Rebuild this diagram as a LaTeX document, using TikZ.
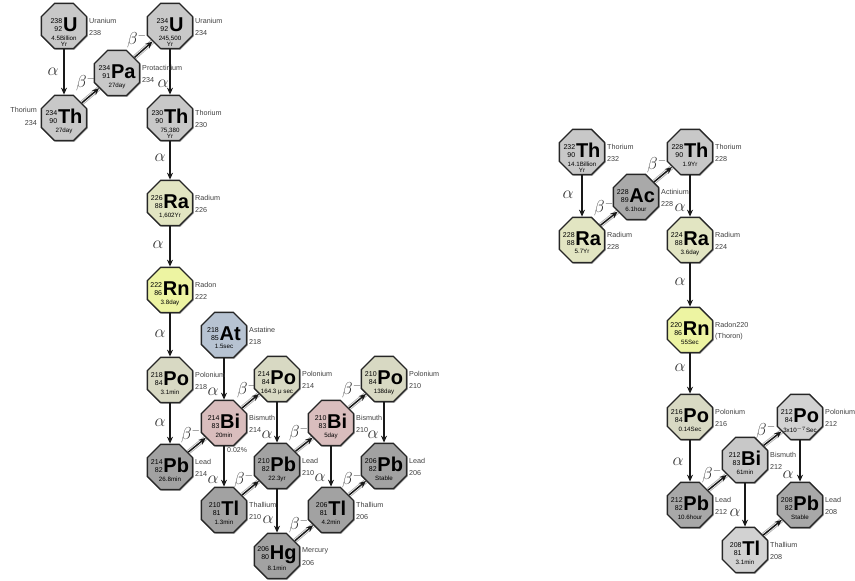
\documentclass[tikz,border=0pt]{standalone}
\usepackage{fontspec}
\setmainfont{Liberation Sans}
\usetikzlibrary{shapes.geometric, arrows.meta, calc, shadows, backgrounds}

\definecolor{cLG}{HTML}{C8C8C8}
\definecolor{cLG2}{HTML}{D2D2D2}
\definecolor{cAc}{HTML}{A9A9A9}
\definecolor{cRa}{HTML}{E2E5C2}
\definecolor{cRn}{HTML}{EDF4A2}
\definecolor{cAt}{HTML}{B7C3D2}
\definecolor{cPo}{HTML}{D8D9C3}
\definecolor{cBi}{HTML}{D9BDBD}
\definecolor{cPbL}{HTML}{A2A2A2}
\definecolor{cPbR}{HTML}{A8A8A8}

\newcommand\numf{\fontsize{7}{7.5}\selectfont}
\newcommand\symf{\fontsize{20}{22}\selectfont\bfseries}
\newcommand\hlf{\fontsize{6.2}{6.6}\selectfont}
\newcommand\labf{\fontsize{7.2}{8.5}\selectfont}

\tikzset{
  oct/.style={regular polygon, regular polygon sides=8, minimum size=49pt, inner sep=0pt,
    draw=black!85, line width=1.4pt,
    drop shadow={shadow xshift=1.2pt, shadow yshift=-1.2pt, fill=black, opacity=0.25}},
  inner/.style={inner sep=0pt},
  hl/.style={inner sep=0pt, anchor=north, align=center, font=\hlf},
  labr/.style={inner sep=0pt, anchor=west, font=\labf, text=black!75},
  labl/.style={inner sep=0pt, anchor=east, font=\labf, text=black!75},
  aarr/.style={line width=1.9pt, draw=black!90, -{Stealth[length=7pt,width=6pt]}},
  barr/.style={line width=1.5pt, draw=black!90, -{Stealth[length=7pt,width=6pt]},
    preaction={draw=black!30, line width=4.6pt, -{}},
    preaction={draw=white, line width=2.8pt, -{}}},
  alab/.style={inner sep=0pt, font=\fontsize{16}{16}\selectfont, text=black!80},
  blab/.style={inner sep=0pt, font=\fontsize{16}{16}\selectfont, text=black!80},
  pct/.style={inner sep=0pt, anchor=west, font=\numf, text=black!75}
}

\newcommand\iso[7]{%
  \node[oct, fill=#3] (#1) at (#2) {};
  \node[inner] at ($(#1)+(0,-1.5)$) {\shortstack[r]{\numf #4\\\numf #5}\kern0.8pt{\symf #6}};
  \node[hl] at ($(#1)+(0,9.5)$) {#7};
}
\newcommand\labR[3]{%
  \node[labr] at ($(#1)+(25,-5)$) {#2};
  \node[labr] at ($(#1)+(25,7)$) {#3};
}
\newcommand\labL[3]{%
  \node[labl] at ($(#1)+(-27,-8)$) {#2};
  \node[labl] at ($(#1)+(-27,5)$) {#3};
}

\begin{document}
\begin{tikzpicture}[x=1pt, y=-1pt]
\useasboundingbox (0,0) rectangle (855,581);

% ---------- Uranium series ----------
\iso{U238}{64,26}{cLG}{238}{92}{U}{4.5Billion\\Yr}
\iso{Pa234}{117,73}{cLG}{234}{91}{Pa}{27day}
\iso{Th234}{64,118}{cLG}{234}{90}{Th}{27day}
\iso{U234}{170,26}{cLG}{234}{92}{U}{245,500\\Yr}
\iso{Th230}{170,118}{cLG}{230}{90}{Th}{75,380\\Yr}
\iso{Ra226}{170,203}{cRa}{226}{88}{Ra}{1,602Yr}
\iso{Rn222}{170,290}{cRn}{222}{86}{Rn}{3.8day}
\iso{At218}{224,335}{cAt}{218}{85}{At}{1.5sec}
\iso{Po218}{170,380}{cPo}{218}{84}{Po}{3.1min}
\iso{Bi214}{224,423}{cBi}{214}{83}{Bi}{20min}
\iso{Po214}{277,379}{cPo}{214}{84}{Po}{164.3 μ sec}
\iso{Pb214}{170,467}{cPbL}{214}{82}{Pb}{26.8min}
\iso{Tl210}{224,510}{cPbL}{210}{81}{Tl}{1.3min}
\iso{Pb210}{277,466}{cPbL}{210}{82}{Pb}{22.3yr}
\iso{Hg206}{277,556}{cPbL}{206}{80}{Hg}{8.1min}
\iso{Bi210}{331,423}{cBi}{210}{83}{Bi}{5day}
\iso{Po210}{384,379}{cPo}{210}{84}{Po}{138day}
\iso{Tl206}{331,510}{cPbL}{206}{81}{Tl}{4.2min}
\iso{Pb206}{384,466}{cPbL}{206}{82}{Pb}{Stable}

\labR{U238}{Uranium}{238}
\labR{Pa234}{Protactinium}{234}
\labL{Th234}{Thorium}{234}
\labR{U234}{Uranium}{234}
\labR{Th230}{Thorium}{230}
\labR{Ra226}{Radium}{226}
\labR{Rn222}{Radon}{222}
\labR{At218}{Astatine}{218}
\labR{Po218}{Polonium}{218}
\labR{Bi214}{Bismuth}{214}
\labR{Po214}{Polonium}{214}
\labR{Pb214}{Lead}{214}
\labR{Tl210}{Thallium}{210}
\labR{Pb210}{Lead}{210}
\labR{Hg206}{Mercury}{206}
\labR{Bi210}{Bismuth}{210}
\labR{Po210}{Polonium}{210}
\labR{Tl206}{Thallium}{206}
\labR{Pb206}{Lead}{206}
\node[pct] at (227,450) {0.02\%};

% ---------- Thorium series ----------
\iso{Th232}{582,152}{cLG}{232}{90}{Th}{14.1Billion\\Yr}
\iso{Ac228}{636,197}{cAc}{228}{89}{Ac}{6.1hour}
\iso{Th228}{690,152}{cLG}{228}{90}{Th}{1.9Yr}
\iso{Ra228}{582,240}{cRa}{228}{88}{Ra}{5.7Yr}
\iso{Ra224}{690,240}{cRa}{224}{88}{Ra}{3.6day}
\iso{Rn220}{690,330}{cRn}{220}{86}{Rn}{55Sec}
\iso{Po216}{690,417}{cPo}{216}{84}{Po}{0.14Sec}
\iso{Bi212}{745,460}{cLG}{212}{83}{Bi}{61min}
\iso{Po212}{800,417}{cLG2}{212}{84}{Po}{3x10$^{-7}$Sec}
\iso{Pb212}{690,505}{cPbR}{212}{82}{Pb}{10.6hour}
\iso{Pb208}{800,505}{cPbR}{208}{82}{Pb}{Stable}
\iso{Tl208}{745,550}{cLG2}{208}{81}{Tl}{3.1min}

\labR{Th232}{Thorium}{232}
\labR{Ac228}{Actinium}{228}
\labR{Th228}{Thorium}{228}
\labR{Ra228}{Radium}{228}
\labR{Ra224}{Radium}{224}
\labR{Rn220}{Radon220}{(Thoron)}
\labR{Po216}{Polonium}{216}
\labR{Bi212}{Bismuth}{212}
\labR{Po212}{Polonium}{212}
\labR{Pb212}{Lead}{212}
\labR{Pb208}{Lead}{208}
\labR{Tl208}{Thallium}{208}

% ---------- connectors ----------
\begin{scope}[on background layer]
  % alpha
  \draw[aarr] (U238) -- (Th234);
  \draw[aarr] (U234) -- (Th230);
  \draw[aarr] (Th230) -- (Ra226);
  \draw[aarr] (Ra226) -- (Rn222);
  \draw[aarr] (Rn222) -- (Po218);
  \draw[aarr] (Po218) -- (Pb214);
  \draw[aarr] (At218) -- (Bi214);
  \draw[aarr] (Po214) -- (Pb210);
  \draw[aarr] (Bi214) -- (Tl210);
  \draw[aarr] (Po210) -- (Pb206);
  \draw[aarr] (Bi210) -- (Tl206);
  \draw[aarr] (Pb210) -- (Hg206);
  \draw[aarr] (Th232) -- (Ra228);
  \draw[aarr] (Th228) -- (Ra224);
  \draw[aarr] (Ra224) -- (Rn220);
  \draw[aarr] (Rn220) -- (Po216);
  \draw[aarr] (Po216) -- (Pb212);
  \draw[aarr] (Bi212) -- (Tl208);
  \draw[aarr] (Po212) -- (Pb208);
  % beta
  \draw[barr] (Th234) -- (Pa234);
  \draw[barr] (Pa234) -- (U234);
  \draw[barr] (Pb214) -- (Bi214);
  \draw[barr] (Bi214) -- (Po214);
  \draw[barr] (Pb210) -- (Bi210);
  \draw[barr] (Bi210) -- (Po210);
  \draw[barr] (Tl210) -- (Pb210);
  \draw[barr] (Tl206) -- (Pb206);
  \draw[barr] (Hg206) -- (Tl206);
  \draw[barr] (Ra228) -- (Ac228);
  \draw[barr] (Ac228) -- (Th228);
  \draw[barr] (Pb212) -- (Bi212);
  \draw[barr] (Bi212) -- (Po212);
  \draw[barr] (Tl208) -- (Pb208);
\end{scope}

% alpha labels
\foreach \p in {(53,72),(163,84),(160,158),(158,245),(160,334),(160,423),(213,392),
  (267,435),(373,435),(213,480),(320,478),(268,520),
  (568,195),(680,208),(680,282),(680,368),(678,462),(735,513),(788,475)}
  \node[alab] at \p {$\alpha$};
% beta labels
\foreach \x/\y in {82/85,133/42,187/437,243/392,295/435,348/392,240/482,348/482,295/527,
  600/210,653/167,708/477,762/433}
  \node[blab] at (\x+4,\y-2) {$\beta^{-}$};
\end{tikzpicture}
\end{document}
